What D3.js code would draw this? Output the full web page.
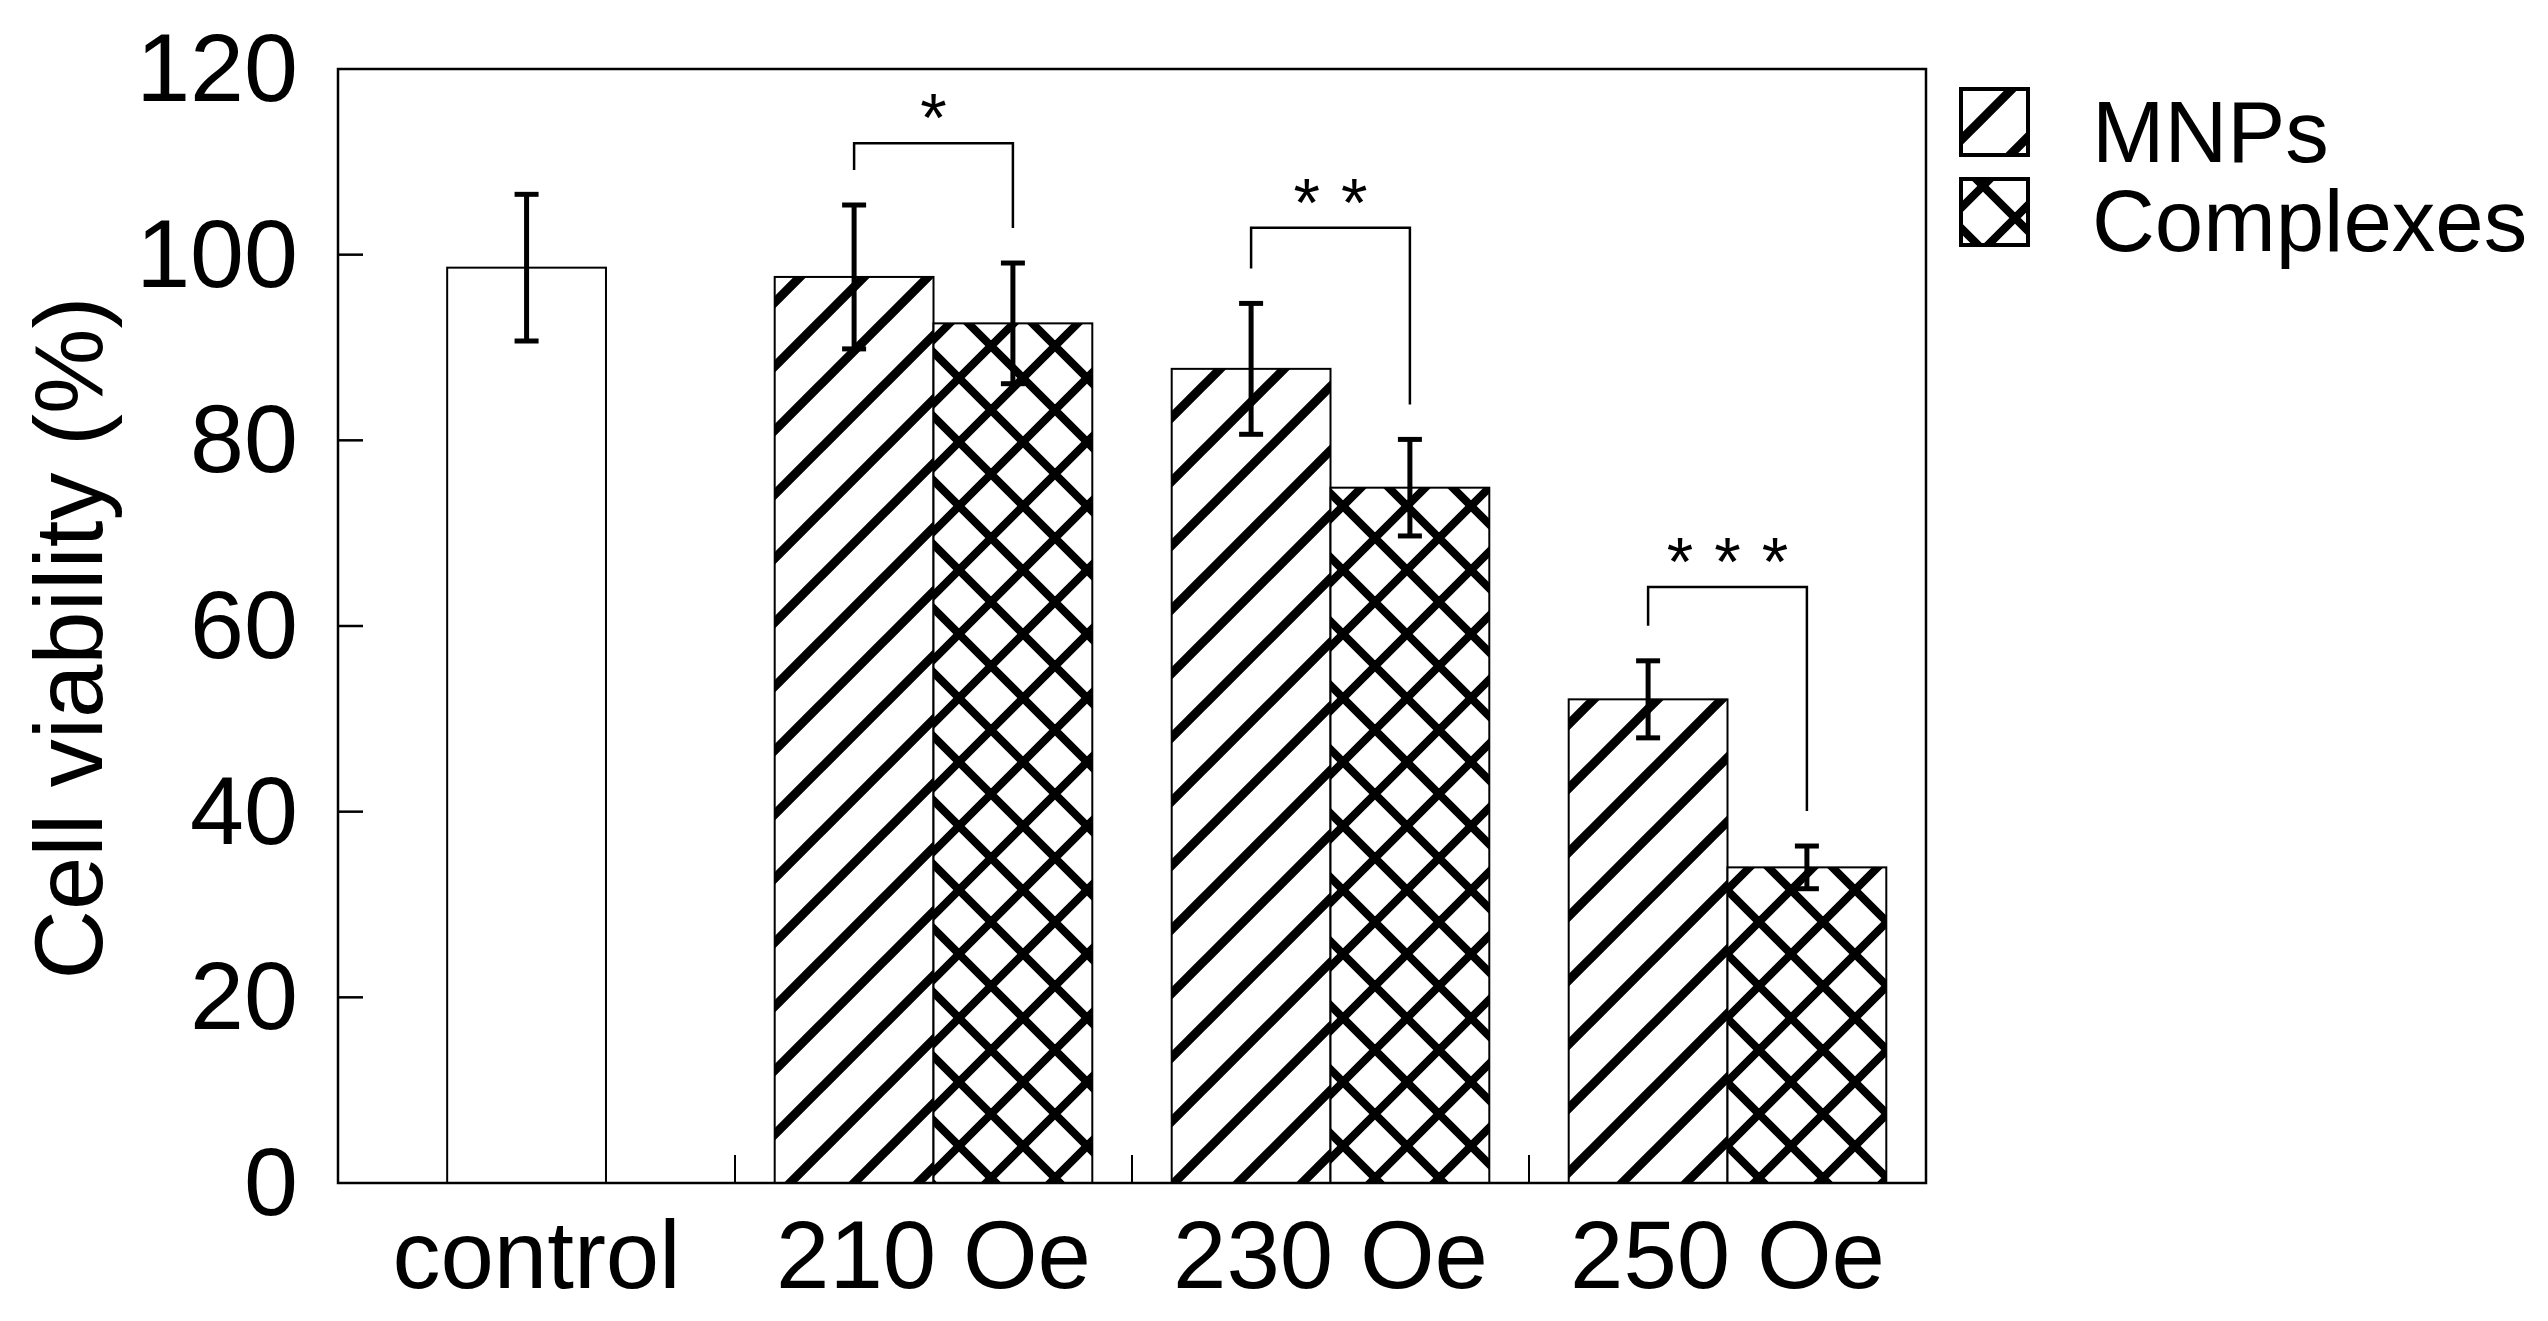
<!DOCTYPE html>
<html>
<head>
<meta charset="utf-8">
<script src="https://cdn.jsdelivr.net/npm/d3@7"></script>
<style>
  body { margin: 0; background: #fff; }
  svg { display: block; }
  text { font-family: "Liberation Sans", Arial, sans-serif; fill: #000; }
</style>
</head>
<body>
<div id="chart"></div>
<script>
// data
let categories = ["control", "210 Oe", "230 Oe", "250 Oe"];
let groups = ["210 Oe", "230 Oe", "250 Oe"];
let series = ["MNPs", "Complexes"];
let controlMean = 98.6;
let controlErr = 7.9;
let mnpMeans = [97.6, 87.7, 52.1];
let mnpErrs = [7.75, 7.05, 4.15];
let complexMeans = [92.6, 74.9, 34.0];
let complexErrs = [6.5, 5.2, 2.3];
let sigLabels = ["*", "**", "***"];
let sigLevels = [112.0, 102.9, 64.2];
let yTicks = [0, 20, 40, 60, 80, 100, 120];

let width = 2548;
let height = 1321;
let margin = {top: 69, bottom: 138, left: 338, right: 622};

let svg = d3.select("#chart")
    .append("svg")
    .attr("width", width)
    .attr("height", height);

// hatch patterns
let defs = svg.append("defs");

let stripes = defs.append("pattern")
    .attr("id", "stripes")
    .attr("patternUnits", "userSpaceOnUse")
    .attr("x", 53).attr("y", 0)
    .attr("width", 64).attr("height", 64);
stripes.append("rect").attr("width", 64).attr("height", 64).attr("fill", "#fff");
stripes.append("path")
    .attr("d", "M-10,10 L10,-10 M0,64 L64,0 M54,74 L74,54")
    .attr("stroke", "#000").attr("stroke-width", 9);

let cross = defs.append("pattern")
    .attr("id", "cross")
    .attr("patternUnits", "userSpaceOnUse")
    .attr("x", -1).attr("y", 58)
    .attr("width", 64).attr("height", 64);
cross.append("rect").attr("width", 64).attr("height", 64).attr("fill", "#fff");
cross.append("path")
    .attr("d", "M-10,10 L10,-10 M0,64 L64,0 M54,74 L74,54 M-10,54 L10,74 M0,0 L64,64 M54,-10 L74,10")
    .attr("stroke", "#000").attr("stroke-width", 8);

let fills = {"MNPs": "url(#stripes)", "Complexes": "url(#cross)"};

// scales
let x = d3.scaleBand()
    .domain(categories)
    .range([margin.left, width - margin.right]);

let bw = x.bandwidth();

let xSub = d3.scaleBand()
    .domain(series)
    .range([bw * 0.1, bw * 0.9]);

let y = d3.scaleLinear()
    .domain([0, 120])
    .range([height - margin.bottom, margin.top]);

let rows = [];
groups.forEach((g, i) => {
    rows.push({group: g, s: "MNPs", mean: mnpMeans[i], err: mnpErrs[i]});
    rows.push({group: g, s: "Complexes", mean: complexMeans[i], err: complexErrs[i]});
});

// control bar (sits a bit left of its band centre in the figure)
let ctrlX = x("control") + bw * 0.275;
svg.append("rect")
    .attr("x", ctrlX)
    .attr("y", y(controlMean))
    .attr("width", xSub.bandwidth())
    .attr("height", y(0) - y(controlMean))
    .attr("fill", "#fff")
    .attr("stroke", "#000")
    .attr("stroke-width", 2);

svg.append("g")
    .selectAll("rect")
    .data(rows)
    .join("rect")
        .attr("x", d => x(d.group) + xSub(d.s))
        .attr("y", d => y(d.mean))
        .attr("width", xSub.bandwidth())
        .attr("height", d => y(0) - y(d.mean))
        .attr("fill", d => fills[d.s])
        .attr("stroke", "#000")
        .attr("stroke-width", 2);

// error bars
let errRows = rows.map(d => ({cx: x(d.group) + xSub(d.s) + xSub.bandwidth() / 2, mean: d.mean, err: d.err}));
errRows.unshift({cx: ctrlX + xSub.bandwidth() / 2, mean: controlMean, err: controlErr});

let eb = svg.append("g")
    .attr("stroke", "#000")
    .attr("stroke-width", 5)
    .attr("fill", "none");

eb.selectAll(".stem")
    .data(errRows)
    .join("line")
        .attr("x1", d => d.cx).attr("x2", d => d.cx)
        .attr("y1", d => y(d.mean + d.err))
        .attr("y2", d => y(d.mean - d.err));

eb.selectAll(".capTop")
    .data(errRows)
    .join("line")
        .attr("class", "capTop")
        .attr("x1", d => d.cx - 12).attr("x2", d => d.cx + 12)
        .attr("y1", d => y(d.mean + d.err))
        .attr("y2", d => y(d.mean + d.err));

eb.selectAll(".capBot")
    .data(errRows)
    .join("line")
        .attr("class", "capBot")
        .attr("x1", d => d.cx - 12).attr("x2", d => d.cx + 12)
        .attr("y1", d => y(d.mean - d.err))
        .attr("y2", d => y(d.mean - d.err));

// significance brackets
let gap = 35;
groups.forEach((g, i) => {
    let xa = x(g) + xSub("MNPs") + xSub.bandwidth() / 2;
    let xb = x(g) + xSub("Complexes") + xSub.bandwidth() / 2;
    let top = y(sigLevels[i]);
    let ya = y(mnpMeans[i] + mnpErrs[i]) - gap;
    let yb = y(complexMeans[i] + complexErrs[i]) - gap;
    svg.append("path")
        .attr("d", `M${xa},${ya} L${xa},${top} L${xb},${top} L${xb},${yb}`)
        .attr("fill", "none")
        .attr("stroke", "#000")
        .attr("stroke-width", 2.5);

    let n = sigLabels[i].length;
    let mid = (xa + xb) / 2;
    d3.range(n).forEach(k => {
        svg.append("text")
            .attr("x", mid + (k - (n - 1) / 2) * 47.5)
            .attr("y", top - 2)
            .attr("text-anchor", "middle")
            .attr("font-size", "68px")
            .text("*");
    });
});

// frame
let x0 = margin.left, x1 = width - margin.right;
let y0 = y(0), y1 = y(120);
svg.append("rect")
    .attr("x", x0).attr("y", y1)
    .attr("width", x1 - x0).attr("height", y0 - y1)
    .attr("fill", "none")
    .attr("stroke", "#000")
    .attr("stroke-width", 2.5);

// y axis ticks (inside) and labels
let yAxis = svg.append("g");
yAxis.selectAll("line")
    .data(yTicks.filter(t => t > 0 && t < 120))
    .join("line")
        .attr("x1", x0).attr("x2", x0 + 25)
        .attr("y1", d => y(d)).attr("y2", d => y(d))
        .attr("stroke", "#000")
        .attr("stroke-width", 2.5);
yAxis.selectAll("text")
    .data(yTicks)
    .join("text")
        .attr("x", x0 - 40)
        .attr("y", d => y(d))
        .attr("dy", "0.33em")
        .attr("text-anchor", "end")
        .attr("font-size", "97px")
        .text(d => d);

// x axis ticks between groups, pointing up
svg.append("g")
    .selectAll("line")
    .data(categories.slice(1))
    .join("line")
        .attr("x1", d => x(d)).attr("x2", d => x(d))
        .attr("y1", y0).attr("y2", y0 - 28)
        .attr("stroke", "#000")
        .attr("stroke-width", 2);

svg.append("g")
    .selectAll("text")
    .data(categories)
    .join("text")
        .attr("x", d => x(d) + bw / 2)
        .attr("y", y0 + 105)
        .attr("text-anchor", "middle")
        .attr("font-size", "96px")
        .text(d => d);

// y axis title
svg.append("text")
    .attr("transform", "translate(102, 638) rotate(-90)")
    .attr("text-anchor", "middle")
    .attr("font-size", "96px")
    .text("Cell viability (%)");

// legend
let legend = svg.append("g");
series.forEach((s, i) => {
    legend.append("rect")
        .attr("x", 1961).attr("y", 89 + i * 90)
        .attr("width", 67).attr("height", 66)
        .attr("fill", fills[s])
        .attr("stroke", "#000")
        .attr("stroke-width", 4);
    legend.append("text")
        .attr("x", 2092).attr("y", 162 + i * 89)
        .attr("font-size", "87px")
        .text(s);
});
</script>
</body>
</html>
